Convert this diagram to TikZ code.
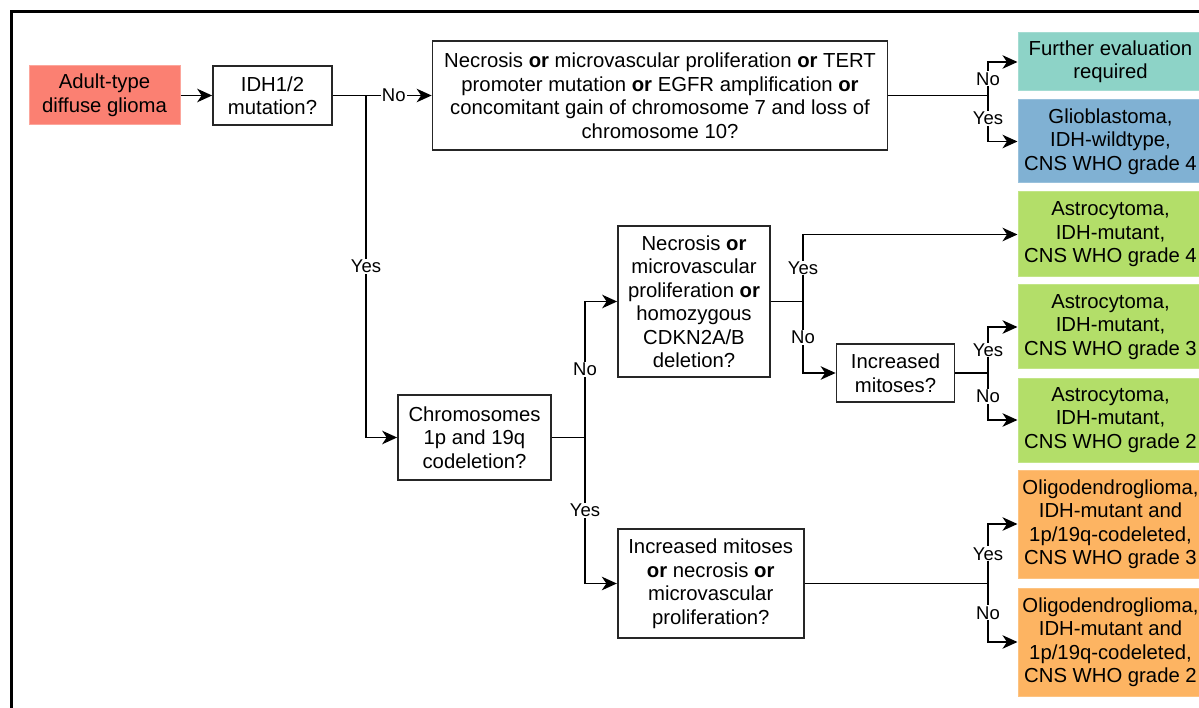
\documentclass[tikz,border=0pt]{standalone}
\usepackage{fontspec}
\setmainfont{Liberation Sans}
\usetikzlibrary{arrows.meta}
\definecolor{csalmon}{HTML}{FB8072}
\definecolor{cteal}{HTML}{8DD3C7}
\definecolor{cblue}{HTML}{80B1D3}
\definecolor{cgreen}{HTML}{B3DE69}
\definecolor{corange}{HTML}{FDB462}
\tikzset{
  base/.style={inner sep=2pt, align=center, font=\fontsize{20.3}{23.5}\selectfont},
  qbox/.style={base, draw=black!85, line width=1.7pt, fill=white},
  rbox/.style={base, minimum width=185pt, draw=#1!80!white, line width=1pt, fill=#1},
  lbl/.style={fill=white, inner sep=1pt, font=\fontsize{18.5}{21}\selectfont},
  conn/.style={line width=1.8pt, draw=black},
  arr/.style={conn, -{Stealth[length=15pt,width=13.5pt,inset=4.5pt]}}
}
\begin{document}
\begin{tikzpicture}[x=1pt,y=-1pt]
\useasboundingbox (0,0) rectangle (1199,708);
\clip (0,0) rectangle (1199,708);
\fill[white] (0,0) rectangle (1199,708);
\draw[line width=2.5pt] (11.5,730) -- (11.5,11.5) -- (1220,11.5);

% nodes
\node[base, fill=csalmon, draw=csalmon!70!white, line width=1pt, minimum width=151pt, minimum height=59pt] (adult) at (104.5,95.5) {Adult-type\\diffuse glioma};
\node[qbox, minimum width=119pt, minimum height=59pt] (idh) at (272.5,95.5) {IDH1/2\\mutation?};
\node[qbox, minimum width=455pt, minimum height=109pt] (nec1) at (660,95.5) {Necrosis \textbf{or} microvascular proliferation \textbf{or} TERT\\promoter mutation \textbf{or} EGFR amplification \textbf{or}\\concomitant gain of chromosome 7 and loss of\\chromosome 10?};
\node[rbox=cteal, minimum height=58pt] (further) at (1110.5,62) {Further evaluation\\required};
\node[rbox=cblue, minimum height=83pt] (glio) at (1110.5,141.5) {Glioblastoma,\\IDH-wildtype,\\CNS WHO grade 4};
\node[rbox=cgreen, minimum height=85pt] (astro4) at (1110.5,234.5) {Astrocytoma,\\IDH-mutant,\\CNS WHO grade 4};
\node[rbox=cgreen, minimum height=84pt] (astro3) at (1110.5,327) {Astrocytoma,\\IDH-mutant,\\CNS WHO grade 3};
\node[rbox=cgreen, minimum height=84pt] (astro2) at (1110.5,420) {Astrocytoma,\\IDH-mutant,\\CNS WHO grade 2};
\node[rbox=corange, minimum height=108pt] (oligo3) at (1110.5,524) {Oligodendroglioma,\\IDH-mutant and\\1p/19q-codeleted,\\CNS WHO grade 3};
\node[rbox=corange, minimum height=108pt] (oligo2) at (1110.5,642) {Oligodendroglioma,\\IDH-mutant and\\1p/19q-codeleted,\\CNS WHO grade 2};
\node[qbox, minimum width=152pt, minimum height=151pt] (nec2) at (694,301.5) {Necrosis \textbf{or}\\microvascular\\proliferation \textbf{or}\\homozygous\\CDKN2A/B\\deletion?};
\node[qbox, minimum width=118pt, minimum height=58pt] (mit1) at (895.5,373) {Increased\\mitoses?};
\node[qbox, minimum width=153pt, minimum height=85pt] (chrom) at (474.5,437.5) {Chromosomes\\1p and 19q\\codeletion?};
\node[qbox, minimum width=186pt, minimum height=109pt] (mit2) at (710.7,583.5) {Increased mitoses\\\textbf{or} necrosis \textbf{or}\\microvascular\\proliferation?};

% junctions
\coordinate (j1) at (366,95.5);
\coordinate (j2) at (988,95.5);
\coordinate (j3) at (585,437.5);
\coordinate (j4) at (803,301.5);
\coordinate (j5) at (988,373);
\coordinate (j6) at (988,583.5);

% connectors
\draw[arr] (adult) -- (idh);
\draw[conn] (idh.east) -- (j1);
\draw[arr] (idh.east) -- node[lbl, pos=0.617]{No} (nec1.west);
\draw[arr] (j1) |- node[lbl, pos=0.25]{Yes} (chrom.west);

\draw[conn] (nec1.east) -- (j2);
\draw[arr] (j2) |- node[lbl, pos=0.25]{No} (further.west);
\draw[arr] (j2) |- node[lbl, pos=0.25]{Yes} (glio.west);

\draw[conn] (chrom.east) -- (j3);
\draw[arr] (j3) |- node[lbl, pos=0.25]{No} (nec2.west);
\draw[arr] (j3) |- node[lbl, pos=0.25]{Yes} (mit2.west);

\draw[conn] (nec2.east) -- (j4);
\draw[arr] (j4) |- node[lbl, pos=0.25]{Yes} (astro4.west);
\draw[arr] (j4) |- node[lbl, pos=0.25]{No} (mit1.west);

\draw[conn] (mit1.east) -- (j5);
\draw[arr] (j5) |- node[lbl, pos=0.25]{Yes} (astro3.west);
\draw[arr] (j5) |- node[lbl, pos=0.25]{No} (astro2.west);

\draw[conn] (mit2.east) -- (j6);
\draw[arr] (j6) |- node[lbl, pos=0.25]{Yes} (oligo3.west);
\draw[arr] (j6) |- node[lbl, pos=0.25]{No} (oligo2.west);
\end{tikzpicture}
\end{document}
